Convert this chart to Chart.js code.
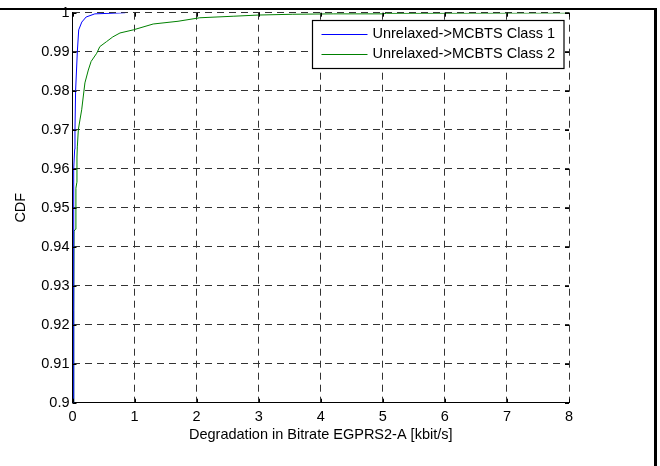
<!DOCTYPE html>
<html>
<head>
<meta charset="utf-8">
<script src="https://cdn.jsdelivr.net/npm/chart.js@4.4.1/dist/chart.umd.min.js"></script>
<style>
  html, body { margin: 0; padding: 0; background: #fff; }
  #wrap { position: relative; width: 660px; height: 466px; }
  #frame {
    position: absolute; left: 0; top: 7.5px; width: 654px; height: 460px;
    border-top: 2.5px solid #000; border-right: 3px solid #000;
    pointer-events: none;
  }
</style>
</head>
<body>
<div id="wrap">
  <canvas id="cdfChart" width="660" height="466"></canvas>
  <div id="frame"></div>
</div>
<script>
// dados
const xTickLabels = ['0', '1', '2', '3', '4', '5', '6', '7', '8'];
const yTickLabels = ['0.9', '0.91', '0.92', '0.93', '0.94', '0.95', '0.96', '0.97', '0.98', '0.99', '1'];
const seriesNames = ['Unrelaxed->MCBTS Class 1', 'Unrelaxed->MCBTS Class 2'];

const classOneX = [0.005, 0.013, 0.015, 0.024, 0.035, 0.04, 0.05, 0.078, 0.1, 0.15, 0.22, 0.36, 0.85];
const classOneY = [0.89, 0.9, 0.955, 0.96, 0.965, 0.97, 0.98, 0.99, 0.9956, 0.9976, 0.9989, 0.9997, 1.0];

const classTwoX = [0.01, 0.02, 0.025, 0.05, 0.055, 0.07, 0.072, 0.078, 0.094, 0.12, 0.148, 0.2, 0.255, 0.3, 0.39, 0.44, 0.55, 0.65, 0.765, 0.98, 1.3, 1.7, 2.05, 2.6, 3.0, 3.55, 4.2, 5.0, 5.06, 8.0];
const classTwoY = [0.89, 0.9237, 0.944, 0.9445, 0.955, 0.9565, 0.963, 0.9656, 0.97, 0.9725, 0.9751, 0.982, 0.9853, 0.9875, 0.9896, 0.9913, 0.9926, 0.9938, 0.9948, 0.9956, 0.9971, 0.9978, 0.9987, 0.9991, 0.9994, 0.9996, 0.9997, 0.9997, 0.99985, 0.99995];

const fonte = { family: "'Liberation Sans', Arial, sans-serif", size: 14.5 };

function pontos(xs, ys) {
  return xs.map((x, i) => ({ x: x, y: ys[i] }));
}

// ticks internos estilo MATLAB
const innerTicks = {
  id: 'innerTicks',
  afterDatasetsDraw(chart) {
    const { ctx, chartArea: a, scales } = chart;
    const len = 4;
    ctx.save();
    ctx.strokeStyle = '#000';
    ctx.lineWidth = 1;
    ctx.beginPath();
    scales.x.ticks.forEach(t => {
      const px = Math.round(scales.x.getPixelForValue(t.value)) + 0.5;
      ctx.moveTo(px, a.bottom); ctx.lineTo(px, a.bottom - len);
      ctx.moveTo(px, a.top); ctx.lineTo(px, a.top + len);
    });
    scales.y.ticks.forEach(t => {
      const py = Math.round(scales.y.getPixelForValue(t.value)) + 0.5;
      ctx.moveTo(a.left, py); ctx.lineTo(a.left + len, py);
      ctx.moveTo(a.right, py); ctx.lineTo(a.right - len, py);
    });
    ctx.stroke();
    ctx.restore();
  }
};

// legenda dentro da área do gráfico (canto superior direito)
const insideLegend = {
  id: 'insideLegend',
  afterDraw(chart) {
    const { ctx, chartArea: a } = chart;
    const sets = chart.data.datasets;
    ctx.save();
    ctx.font = fonte.size + 'px ' + fonte.family;
    const textW = Math.max(...sets.map(d => ctx.measureText(d.label).width));
    const padL = 9, lineW = 46, gap = 5, padR = 9;
    const w = padL + lineW + gap + textW + padR;
    const h = 48;
    const right = a.right - 5;
    const left = Math.round(right - w) + 0.5;
    const top = Math.round(a.top + 7) + 0.5;
    ctx.fillStyle = '#fff';
    ctx.fillRect(left, top, right - left, h);
    ctx.strokeStyle = '#000';
    ctx.lineWidth = 1.2;
    ctx.strokeRect(left, top, right - left, h);
    sets.forEach((d, i) => {
      const y = top + 13 + i * 20;
      ctx.strokeStyle = d.borderColor;
      ctx.lineWidth = 1;
      ctx.beginPath();
      ctx.moveTo(left + padL, Math.round(y) + 0.5);
      ctx.lineTo(left + padL + lineW, Math.round(y) + 0.5);
      ctx.stroke();
      ctx.fillStyle = '#000';
      ctx.textBaseline = 'middle';
      ctx.textAlign = 'left';
      ctx.fillText(d.label, left + padL + lineW + gap, y);
    });
    ctx.restore();
  }
};

const ctx = document.getElementById('cdfChart').getContext('2d');
new Chart(ctx, {
  type: 'line',
  data: {
    datasets: [
      {
        label: seriesNames[0],
        data: pontos(classOneX, classOneY),
        borderColor: '#0000ff',
        borderWidth: 1,
        pointRadius: 0,
        tension: 0,
        fill: false
      },
      {
        label: seriesNames[1],
        data: pontos(classTwoX, classTwoY),
        borderColor: '#008000',
        borderWidth: 1,
        pointRadius: 0,
        tension: 0,
        fill: false
      }
    ]
  },
  options: {
    responsive: false,
    animation: false,
    events: [],
    layout: { padding: { left: 0, right: 91, top: 12.7, bottom: 0 } },
    plugins: {
      legend: { display: false },
      tooltip: { enabled: false }
    },
    scales: {
      x: {
        type: 'linear',
        min: 0,
        max: 8,
        afterFit(scale) { scale.height = 63.3; },
        grid: { color: '#333', lineWidth: 1, drawTicks: false },
        border: { display: true, color: '#000', width: 1, dash: [7, 5] },
        ticks: {
          stepSize: 1,
          autoSkip: false,
          maxRotation: 0,
          padding: 5.5,
          color: '#000',
          font: fonte,
          callback: (v, i) => xTickLabels[i]
        },
        title: {
          display: true,
          text: 'Degradation in Bitrate EGPRS2-A [kbit/s]',
          color: '#000',
          font: fonte,
          padding: { top: 0, bottom: 22.4 }
        }
      },
      y: {
        min: 0.9,
        max: 1,
        afterFit(scale) { scale.width = 72.5; },
        grid: { color: '#333', lineWidth: 1, drawTicks: false },
        border: { display: true, color: '#000', width: 1, dash: [7, 5] },
        ticks: {
          stepSize: 0.01,
          autoSkip: false,
          padding: 3,
          color: '#000',
          font: fonte,
          callback: (v, i) => yTickLabels[i]
        },
        title: {
          display: true,
          text: 'CDF',
          color: '#000',
          font: fonte,
          padding: { top: 12.3, bottom: 0 }
        }
      }
    }
  },
  plugins: [innerTicks, insideLegend]
});
</script>
</body>
</html>
